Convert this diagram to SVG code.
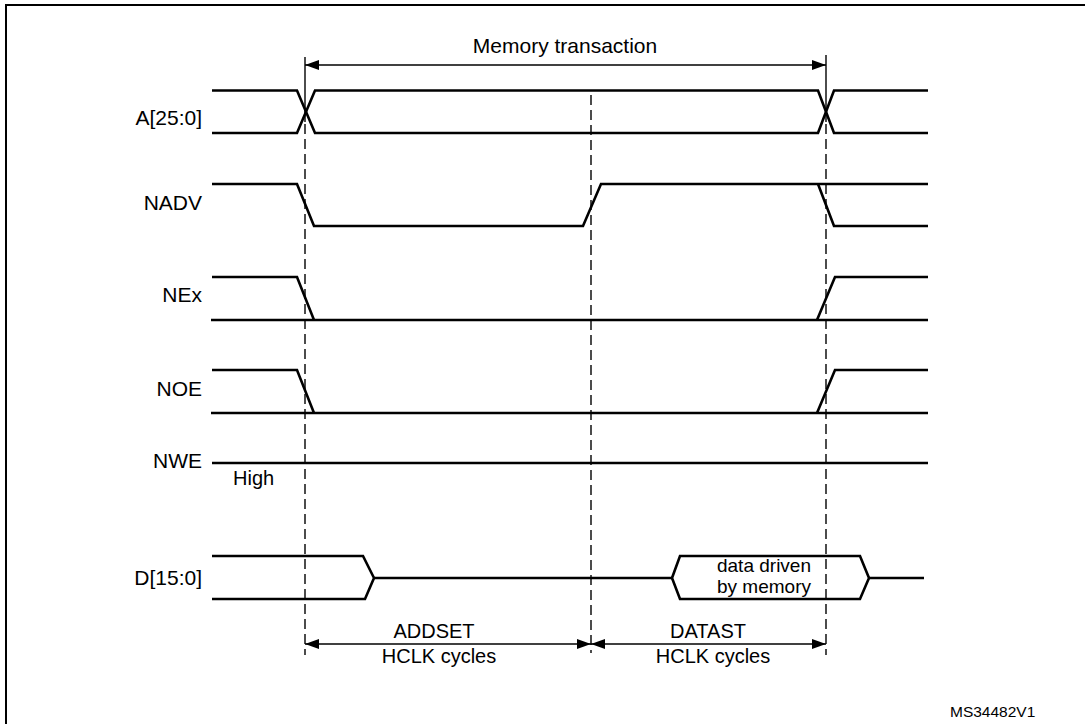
<svg xmlns="http://www.w3.org/2000/svg" width="1085" height="724" viewBox="0 0 1085 724">
<style>
  text { font-family: "Liberation Sans", Arial, sans-serif; fill: #000; }
  .lbl { font-size: 21px; text-anchor: end; }
  .ann { font-size: 20px; text-anchor: middle; }
  .box { font-size: 19px; text-anchor: middle; }
  .sig { fill: none; stroke: #000; stroke-width: 2.6; stroke-linejoin: miter; }
  .dash { fill: none; stroke: #000; stroke-width: 1.4; stroke-dasharray: 10 5; }
  .solid { fill: none; stroke: #000; stroke-width: 1.4; }
  .arr { fill: none; stroke: #000; stroke-width: 1.4; marker-start: url(#ah); marker-end: url(#ah); }
</style>
<defs>
  <marker id="ah" viewBox="0 0 14 10" refX="14" refY="5" markerWidth="14" markerHeight="10" markerUnits="userSpaceOnUse" orient="auto-start-reverse">
    <path d="M0,0 L14,5 L0,10 Z" fill="#000"/>
  </marker>
</defs>
<rect width="1085" height="724" fill="#fff"/>
<path d="M6,730 V5 H1090" fill="none" stroke="#000" stroke-width="2"/>

<g id="connectors">
  <line class="solid" x1="305" y1="57" x2="305" y2="122"/>
  <line class="dash" x1="305" y1="124" x2="305" y2="655"/>
  <line class="dash" x1="591" y1="95" x2="591" y2="653"/>
  <line class="solid" x1="826" y1="55" x2="826" y2="122"/>
  <line class="dash" x1="826" y1="124" x2="826" y2="655"/>
  <line class="arr" x1="305" y1="65" x2="826" y2="65"/>
  <line class="arr" x1="305" y1="644" x2="591" y2="644"/>
  <line class="arr" x1="591" y1="644" x2="826" y2="644"/>
</g>

<g id="memory-transaction">
  <text class="ann" x="565" y="53" style="font-size:21px">Memory transaction</text>
</g>

<g id="sig-A">
  <text class="lbl" x="202" y="125">A[25:0]</text>
  <path class="sig" d="M212,90.5 H297 L315,133 H818 L834,90.5 H928"/>
  <path class="sig" d="M212,133 H297 L315,90.5 H818 L834,133 H928"/>
</g>

<g id="sig-NADV">
  <text class="lbl" x="202" y="210">NADV</text>
  <path class="sig" d="M212,184 H297 L314,226 H583 L601,184 H928"/>
  <path class="sig" d="M818,184 L834,226 H928"/>
</g>

<g id="sig-NEx">
  <text class="lbl" x="202" y="302">NEx</text>
  <path class="sig" d="M212,277 H297 L314,320"/>
  <path class="sig" d="M211,320 H928"/>
  <path class="sig" d="M817,320 L835,277 H928"/>
</g>

<g id="sig-NOE">
  <text class="lbl" x="202" y="396">NOE</text>
  <path class="sig" d="M212,370 H297 L314,413"/>
  <path class="sig" d="M211,413 H928"/>
  <path class="sig" d="M817,413 L835,370 H928"/>
</g>

<g id="sig-NWE">
  <text class="lbl" x="202" y="468">NWE</text>
  <path class="sig" d="M212,463 H928"/>
  <text x="233" y="485" style="font-size:20px">High</text>
</g>

<g id="sig-D">
  <text class="lbl" x="202" y="585">D[15:0]</text>
  <path class="sig" d="M212,556 H363 L374,578 L365,599 H212"/>
  <path class="sig" d="M374,578 H672"/>
  <path class="sig" d="M672,578 L680,556 H860 L869,578 L860,599 H680 Z"/>
  <path class="sig" d="M869,578 H924"/>
  <text class="box" x="764" y="572">data driven</text>
  <text class="box" x="764" y="593">by memory</text>
</g>

<g id="addset">
  <text class="ann" x="434" y="638">ADDSET</text>
  <text class="ann" x="439" y="663">HCLK cycles</text>
</g>

<g id="datast">
  <text class="ann" x="708" y="638">DATAST</text>
  <text class="ann" x="713" y="663">HCLK cycles</text>
</g>

<text x="950" y="717" style="font-size:15.5px">MS34482V1</text>
</svg>
